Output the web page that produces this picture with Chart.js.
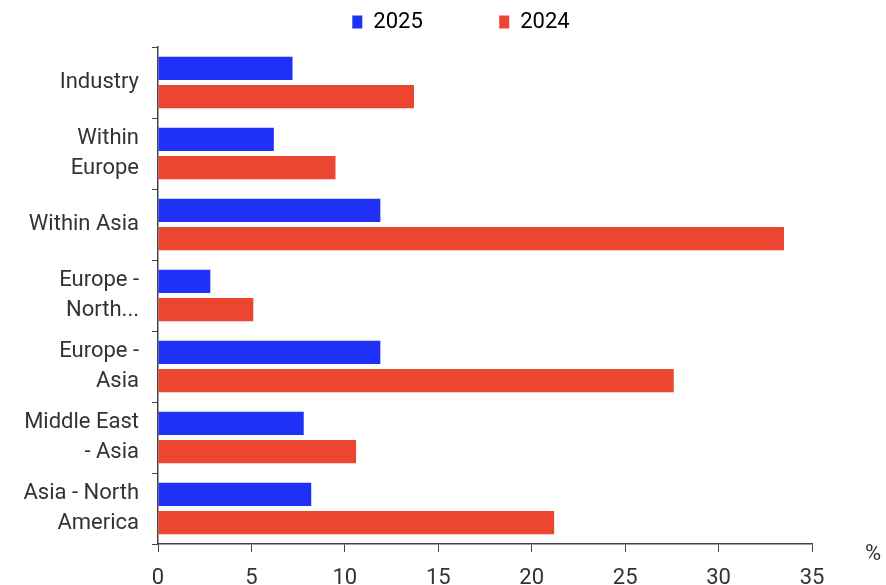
<!DOCTYPE html>
<html>
<head>
<meta charset="utf-8">
<script src="https://cdn.jsdelivr.net/npm/chart.js@4/dist/chart.umd.min.js"></script>
<style>
  html, body { margin: 0; padding: 0; background: #fff; }
  #wrap { width: 886px; height: 585px; }
</style>
</head>
<body>
<div id="wrap"><canvas id="myChart" width="886" height="585"></canvas></div>
<script>
const categories = [
    "Industry",
    ["Within", "Europe"],
    "Within Asia",
    ["Europe -", "North..."],
    ["Europe -", "Asia"],
    ["Middle East", "- Asia"],
    ["Asia - North", "America"],
]
const values2025 = [7.2, 6.2, 11.9, 2.8, 11.9, 7.8, 8.2]
const values2024 = [13.7, 9.5, 33.5, 5.1, 27.6, 10.6, 21.2]
const xTicks = [0, 5, 10, 15, 20, 25, 30, 35]

const font = "Roboto"
const textColor = "#333333"

// "%" unit label at the right end of the x axis
const unitLabel = {
    id: 'unitLabel',
    afterDraw(chart) {
        const c = chart.ctx
        const x = chart.scales.x
        c.save()
        c.font = "22px " + font
        c.fillStyle = textColor
        c.textAlign = 'center'
        c.textBaseline = 'middle'
        c.fillText("%", x.right + 61, x.top + 10)
        c.restore()
    }
}

// a bit more room under the legend, and nudge it right
const legendTweak = {
    id: 'legendTweak',
    beforeUpdate(chart) {
        const lg = chart.legend
        if (lg && !lg._tweaked) {
            const fit = lg.fit
            lg.fit = function () {
                fit.call(this)
                this.height += 4
            }
            lg._tweaked = true
        }
    },
    beforeDraw(chart) {
        chart.legend.left = 110
    }
}

const ctx = document.getElementById('myChart').getContext('2d')

const myChart = new Chart(ctx, {
    type: 'bar',
    data: {
        labels: categories,
        datasets: [
            {
                label: "2025",
                data: values2025,
                backgroundColor: "#1f30f7",
            },
            {
                label: "2024",
                data: values2024,
                backgroundColor: "#ec4630",
            },
        ],
    },
    options: {
        indexAxis: 'y',
        responsive: false,
        animation: false,
        categoryPercentage: 0.79,
        barPercentage: 0.83,
        layout: { padding: { left: 0, right: 74, top: 0, bottom: 0 } },
        plugins: {
            tooltip: { enabled: false },
            legend: {
                position: 'top',
                labels: {
                    font: { family: font, size: 22 },
                    color: textColor,
                    boxWidth: 10,
                    boxHeight: 13,
                    padding: 11,
                    generateLabels(chart) {
                        return chart.data.datasets.map((ds, i) => ({
                            text: i === 0 ? ds.label + "            " : ds.label,
                            fillStyle: ds.backgroundColor,
                            strokeStyle: ds.backgroundColor,
                            lineWidth: 0,
                            datasetIndex: i,
                        }))
                    },
                },
            },
        },
        scales: {
            x: {
                min: 0,
                max: 35,
                afterBuildTicks(scale) {
                    scale.ticks = xTicks.map(v => ({ value: v }))
                },
                afterFit(scale) {
                    scale.height = 41
                },
                grid: {
                    drawOnChartArea: false,
                    drawTicks: true,
                    tickLength: 8,
                    color: "#444",
                },
                border: { color: "#444", width: 1.5 },
                ticks: {
                    font: { family: font, size: 22 },
                    color: textColor,
                    padding: 13,
                },
            },
            y: {
                afterFit(scale) {
                    scale.width = 158
                },
                grid: {
                    drawOnChartArea: false,
                    drawTicks: true,
                    tickLength: 6,
                    color: "#444",
                    offset: true,
                },
                border: { color: "#444", width: 1.5 },
                ticks: {
                    font: { family: font, size: 22, lineHeight: 1.36 },
                    color: textColor,
                    padding: 13,
                },
            },
        },
    },
    plugins: [unitLabel, legendTweak],
});
</script>
</body>
</html>
